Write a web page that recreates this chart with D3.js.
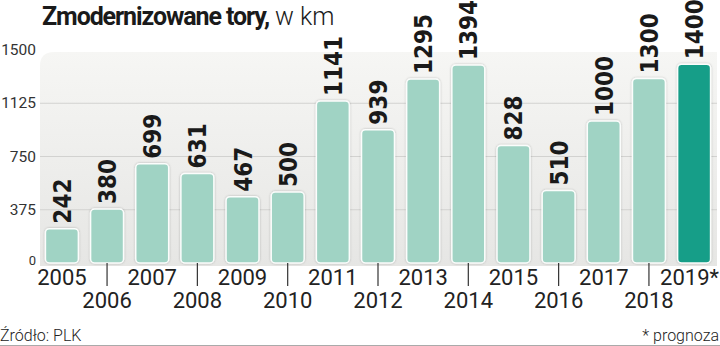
<!DOCTYPE html>
<html>
<head>
<meta charset="utf-8">
<script src="https://cdn.jsdelivr.net/npm/d3@7"></script>
<style>
  body { margin: 0; background: #fff; }
  svg { display: block; }
</style>
</head>
<body>
<svg id="chart" width="720" height="346"></svg>
<script>
// dane
const years = ["2005", "2006", "2007", "2008", "2009", "2010", "2011", "2012",
  "2013", "2014", "2015", "2016", "2017", "2018", "2019*"];
const values = [242, 380, 699, 631, 467, 500, 1141, 939, 1295, 1394, 828, 510, 1000, 1300, 1400];
const yTicks = [0, 375, 750, 1125, 1500];
const forecastYear = "2019*";

const svg = d3.select("#chart");

const x = d3.scaleBand().domain(years).range([40, 716]).paddingInner(0.27).paddingOuter(0.12);
const y = d3.scaleLinear().domain([0, 1500]).range([263, 50]);

// tlo z gradientem
const defs = svg.append("defs");
const grad = defs.append("linearGradient").attr("id", "bg").attr("x1", 0).attr("y1", 0).attr("x2", 0).attr("y2", 1);
grad.append("stop").attr("offset", "0%").attr("stop-color", "#f6f6f4");
grad.append("stop").attr("offset", "100%").attr("stop-color", "#e6e6e4");

const shadow = defs.append("filter").attr("id", "shadow").attr("x", "-20%").attr("y", "-20%").attr("width", "140%").attr("height", "140%");
shadow.append("feDropShadow").attr("dx", 0).attr("dy", 0).attr("stdDeviation", 1.2)
  .attr("flood-color", "#000").attr("flood-opacity", 0.25);

svg.append("path")
  .attr("d", "M40,266 L40,66 Q40,52 54,52 L717,52 L717,266 Z")
  .attr("fill", "url(#bg)");

// linie siatki
svg.append("g").selectAll("line")
  .data(yTicks.filter(d => d > 0 && d < 1500))
  .join("line")
  .attr("x1", 40).attr("x2", 717)
  .attr("y1", d => y(d)).attr("y2", d => y(d))
  .attr("stroke", "#d2d2d0").attr("stroke-width", 1);

// os Y
svg.append("g").selectAll("text")
  .data(yTicks)
  .join("text")
  .attr("x", 36)
  .attr("y", d => d === 0 ? y(d) + 2 : y(d) + 5)
  .attr("text-anchor", "end")
  .attr("font-family", "Roboto, sans-serif")
  .attr("font-size", d => d === 0 ? 13 : 15.5)
  .attr("fill", "#333")
  .text(d => d);

// slupki
svg.append("g").selectAll("rect")
  .data(values)
  .join("rect")
  .attr("x", (d, i) => x(years[i]))
  .attr("y", d => y(d))
  .attr("width", x.bandwidth())
  .attr("height", d => y(0) - y(d))
  .attr("rx", 4)
  .attr("fill", (d, i) => years[i] === forecastYear ? "#179e88" : "#a0d3c4")
  .attr("stroke", "#fbfdfc")
  .attr("stroke-width", 1.5)
  .attr("filter", "url(#shadow)");

// wartosci
svg.append("g").selectAll("text")
  .data(values)
  .join("text")
  .attr("transform", (d, i) => `translate(${x(years[i]) + x.bandwidth() / 2 + 9},${y(d) - 5}) rotate(-90)`)
  .attr("font-family", "'DejaVu Sans Condensed', 'DejaVu Sans', sans-serif")
  .attr("font-stretch", "condensed")
  .attr("font-weight", "bold")
  .attr("font-size", 24)
  .attr("fill", "#1a1a1a")
  .text(d => d);

// lata
const xg = svg.append("g").attr("font-family", "Roboto, sans-serif").attr("font-size", 22).attr("fill", "#222");
years.forEach((yr, i) => {
  const cx = x(yr) + x.bandwidth() / 2;
  if (i % 2 === 0) {
    const last = i === years.length - 1;
    xg.append("text")
      .attr("x", last ? 719 : cx)
      .attr("y", 285)
      .attr("text-anchor", last ? "end" : "middle")
      .text(yr);
  } else {
    xg.append("line").attr("x1", cx).attr("x2", cx).attr("y1", 263).attr("y2", 286)
      .attr("stroke", "#333").attr("stroke-width", 1.2);
    xg.append("text").attr("x", cx).attr("y", 308).attr("text-anchor", "middle").text(yr);
  }
});

// tytul
const title = svg.append("text").attr("x", 42).attr("y", 25).attr("font-family", "Roboto, sans-serif").attr("fill", "#1a1a1a");
title.append("tspan").attr("font-weight", "bold").attr("font-size", 25).attr("letter-spacing", -1.1).text("Zmodernizowane tory,");
title.append("tspan").attr("font-size", 25).attr("font-weight", 300).attr("dx", 6).text("w km");

// stopka
svg.append("text").attr("x", 0).attr("y", 341).attr("font-family", "Roboto, sans-serif").attr("font-size", 16).attr("font-weight", 300).attr("fill", "#222").text("Źródło: PLK");
svg.append("text").attr("x", 719).attr("y", 341).attr("text-anchor", "end").attr("font-family", "Roboto, sans-serif").attr("font-size", 16).attr("font-weight", 300).attr("fill", "#222").text("* prognoza");
svg.append("line").attr("x1", 0).attr("x2", 720).attr("y1", 345.5).attr("y2", 345.5).attr("stroke", "#aaa").attr("stroke-width", 1);
</script>
</body>
</html>
